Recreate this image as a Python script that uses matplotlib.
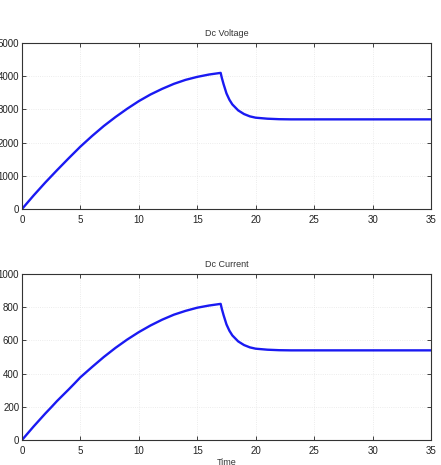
import matplotlib
matplotlib.use("Agg")
import matplotlib.pyplot as plt

time = [0, 0.5, 1, 1.5, 2, 2.5, 3, 3.5, 4, 4.5, 5, 6, 7, 8, 9, 10, 11, 12, 13, 14,
        15, 16, 16.5, 17, 17.1, 17.25, 17.5, 17.75, 18, 18.5, 19, 19.5, 20, 21,
        22, 23, 25, 30, 35]
dc_voltage = [0, 205, 410, 605, 800, 985, 1170, 1350, 1530, 1705, 1880, 2200,
              2500, 2770, 3020, 3250, 3450, 3620, 3770, 3890, 3980, 4050, 4075,
              4100, 3950, 3760, 3480, 3290, 3150, 2970, 2860, 2790, 2750, 2720,
              2705, 2700, 2700, 2700, 2700]
dc_current = [0, 41, 82, 121, 160, 197, 235, 270, 305, 341, 378, 440, 500, 555,
              605, 650, 690, 725, 755, 778, 797, 810, 815, 820, 790, 752, 696,
              658, 630, 594, 572, 558, 550, 544, 541, 540, 540, 540, 540]

x_ticks = [0, 5, 10, 15, 20, 25, 30, 35]
v_ticks = [0, 1000, 2000, 3000, 4000, 5000]
i_ticks = [0, 200, 400, 600, 800, 1000]

plt.rcParams['font.family'] = ['Liberation Sans', 'DejaVu Sans']
fig = plt.figure(figsize=(4.41, 4.65), dpi=100)
W, H = 441, 465
ax1 = fig.add_axes([22 / W, 1 - 209 / H, (431 - 22) / W, (209 - 43) / H])
ax2 = fig.add_axes([22 / W, 1 - 440 / H, (431 - 22) / W, (440 - 274) / H])

for ax, y, yt, title in [(ax1, dc_voltage, v_ticks, "Dc Voltage"),
                         (ax2, dc_current, i_ticks, "Dc Current")]:
    ax.plot(time, y, color=(0.1, 0.1, 0.95), lw=1.7)
    ax.set_xlim(0, 35)
    ax.set_ylim(yt[0], yt[-1])
    ax.set_xticks(x_ticks)
    ax.set_yticks(yt)
    ax.tick_params(axis='x', pad=4)
    ax.tick_params(axis='y', pad=2)
    ax.tick_params(direction='in', top=True, right=True, labelsize=7,
                   length=3, width=0.6, colors='#222222')
    ax.grid(True, linestyle=':', color='#e6e6e6', lw=0.6)
    for s in ax.spines.values():
        s.set_linewidth(0.8)
        s.set_color('#333333')
    ax.set_title(title, fontsize=6.5, pad=5, color='#333333')

ax2.set_xlabel("Time", fontsize=6.5, labelpad=2, color='#333333')

fig.savefig("out.png", dpi=100)
